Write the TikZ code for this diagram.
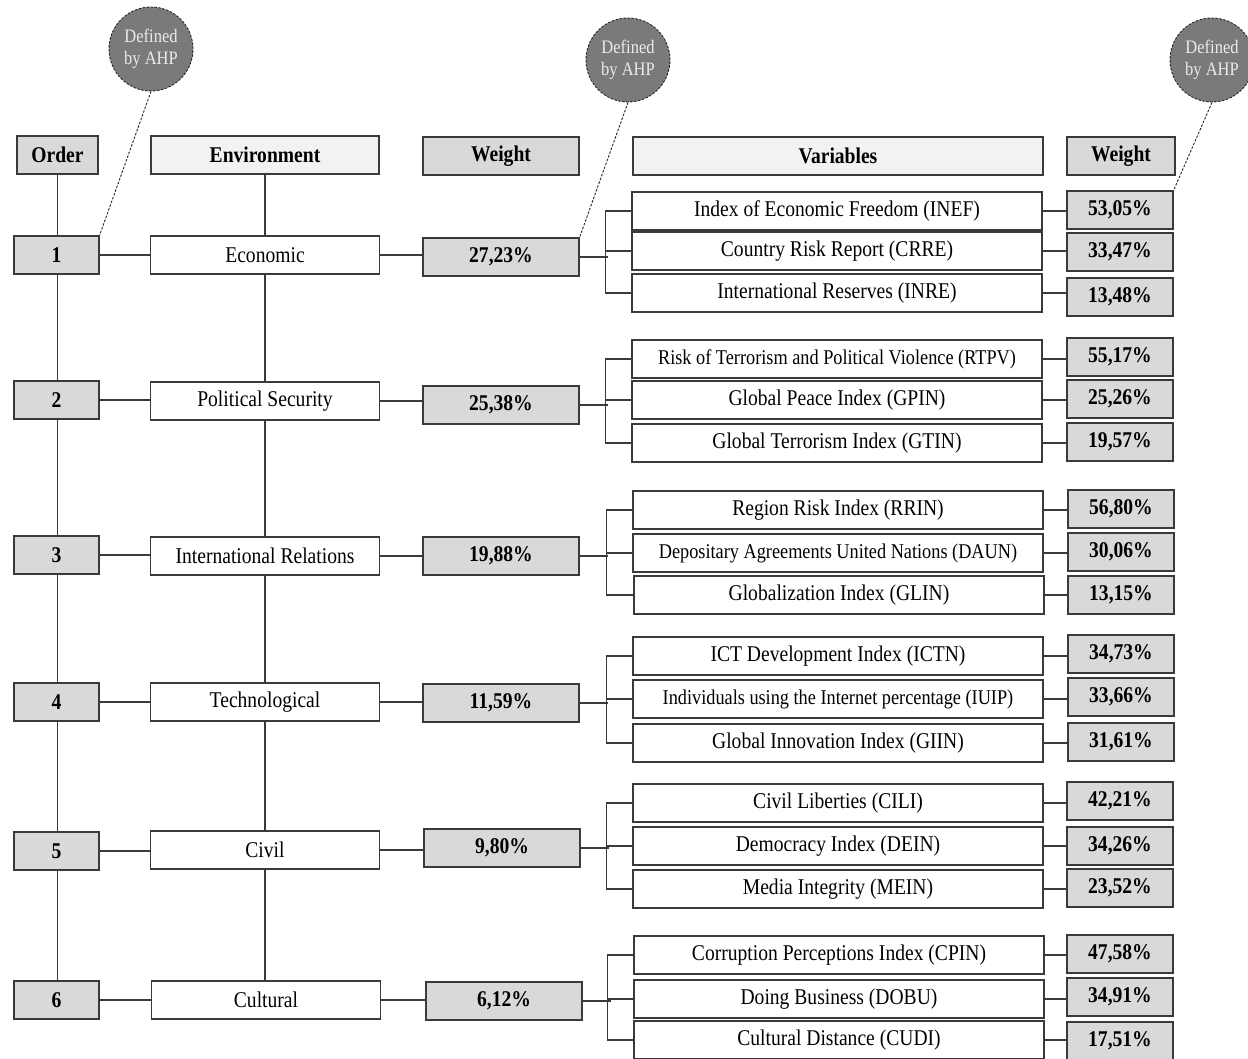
\documentclass[tikz,border=0pt]{standalone}
\usepackage{fontspec}
\setmainfont{Liberation Serif}
\newcommand{\cx}[1]{\scalebox{0.87}[1]{#1}}
\definecolor{gfill}{HTML}{D9D9D9}
\definecolor{hfill}{HTML}{F2F2F2}
\definecolor{cfill}{HTML}{7A7A7A}
\definecolor{ctext}{HTML}{EBEBEB}
\definecolor{lcol}{HTML}{3A3A3A}
\tikzset{
  box/.style={draw=lcol, line width=1.1pt, minimum height=38pt, inner sep=0pt, anchor=center, font=\fontsize{22.5}{25}\selectfont},
  smalltxt/.style={font=\fontsize{21}{24}\selectfont},
  gbox/.style={box, fill=gfill, font=\fontsize{22.5}{25}\selectfont\bfseries},
  hbox/.style={box, fill=hfill, font=\fontsize{22.5}{25}\selectfont\bfseries},
  ordbox/.style={gbox, minimum width=85pt},
  envbox/.style={box, fill=white, minimum width=229pt},
  wbox/.style={gbox, minimum width=156pt},
  varbox/.style={box, fill=white, minimum width=410pt},
  rwbox/.style={gbox, minimum width=106pt},
  conn/.style={draw=lcol, line width=1.1pt},
  ahp/.style={circle, draw=black!85, dash pattern=on 2.5pt off 1.5pt, line width=0.9pt, fill=cfill, minimum size=84pt, inner sep=0pt, text=ctext, align=center, font=\fontsize{19}{22}\selectfont},
  lead/.style={draw=black!85, dash pattern=on 2.5pt off 1.5pt, line width=0.9pt}
}
\begin{document}
\begin{tikzpicture}[x=1pt,y=-1pt]
\useasboundingbox (0,0) rectangle (1248,1059);
% headers
\node[gbox, minimum width=81pt] (oh) at (57.5,155) {\cx{Order}};
\node[hbox, minimum width=228pt] (eh) at (265,155) {\cx{Environment}};
\node[gbox, minimum width=156pt] (wh) at (501,156) {\cx{Weight}};
\node[hbox, minimum width=410pt] (vh) at (838,156) {\cx{Variables}};
\node[gbox, minimum width=108pt] (rh) at (1121,156) {\cx{Weight}};
% order boxes
\node[ordbox] (o1) at (56.5,255) {\cx{1}};
\node[ordbox] (o2) at (56.5,400) {\cx{2}};
\node[ordbox] (o3) at (56.5,555) {\cx{3}};
\node[ordbox] (o4) at (56.5,702) {\cx{4}};
\node[ordbox] (o5) at (56.5,851) {\cx{5}};
\node[ordbox] (o6) at (56.5,1000) {\cx{6}};
% environment boxes
\node[envbox] (e1) at (265,255) {\cx{Economic}};
\node[envbox] (e2) at (265,401) {\cx{Political Security}};
\node[envbox] (e3) at (265,556) {\cx{International Relations}};
\node[envbox] (e4) at (265,702) {\cx{Technological}};
\node[envbox] (e5) at (265,850) {\cx{Civil}};
\node[envbox] (e6) at (266,1000) {\cx{Cultural}};
% weight boxes
\node[wbox] (w1) at (501,257) {\cx{27,23\%}};
\node[wbox] (w2) at (501,405) {\cx{25,38\%}};
\node[wbox] (w3) at (501,556) {\cx{19,88\%}};
\node[wbox] (w4) at (501,703) {\cx{11,59\%}};
\node[wbox] (w5) at (502,848) {\cx{9,80\%}};
\node[wbox] (w6) at (504,1001) {\cx{6,12\%}};
% variables
\node[varbox] (v1a) at (837,211) {\cx{Index of Economic Freedom (INEF)}};
\node[varbox] (v1b) at (837,251) {\cx{Country Risk Report (CRRE)}};
\node[varbox] (v1c) at (837,293) {\cx{International Reserves (INRE)}};
\node[varbox, smalltxt] (v2a) at (837,359) {\cx{Risk of Terrorism and Political Violence (RTPV)}};
\node[varbox] (v2b) at (837,400) {\cx{Global Peace Index (GPIN)}};
\node[varbox] (v2c) at (837,443) {\cx{Global Terrorism Index (GTIN)}};
\node[varbox] (v3a) at (838,510) {\cx{Region Risk Index (RRIN)}};
\node[varbox, smalltxt] (v3b) at (838,553) {\cx{Depositary Agreements United Nations (DAUN)}};
\node[varbox] (v3c) at (839,595) {\cx{Globalization Index (GLIN)}};
\node[varbox] (v4a) at (838,656) {\cx{ICT Development Index (ICTN)}};
\node[varbox, smalltxt] (v4b) at (838,699) {\cx{Individuals using the Internet percentage (IUIP)}};
\node[varbox] (v4c) at (838,743) {\cx{Global Innovation Index (GIIN)}};
\node[varbox] (v5a) at (838,803) {\cx{Civil Liberties (CILI)}};
\node[varbox] (v5b) at (838,846) {\cx{Democracy Index (DEIN)}};
\node[varbox] (v5c) at (838,889) {\cx{Media Integrity (MEIN)}};
\node[varbox] (v6a) at (839,955) {\cx{Corruption Perceptions Index (CPIN)}};
\node[varbox] (v6b) at (839,999) {\cx{Doing Business (DOBU)}};
\node[varbox] (v6c) at (839,1040) {\cx{Cultural Distance (CUDI)}};
% right weights
\node[rwbox] (r1a) at (1120,210) {\cx{53,05\%}};
\node[rwbox] (r1b) at (1120,252) {\cx{33,47\%}};
\node[rwbox] (r1c) at (1120,297) {\cx{13,48\%}};
\node[rwbox] (r2a) at (1120,357) {\cx{55,17\%}};
\node[rwbox] (r2b) at (1120,399) {\cx{25,26\%}};
\node[rwbox] (r2c) at (1120,442) {\cx{19,57\%}};
\node[rwbox] (r3a) at (1121,509) {\cx{56,80\%}};
\node[rwbox] (r3b) at (1121,552) {\cx{30,06\%}};
\node[rwbox] (r3c) at (1121,595) {\cx{13,15\%}};
\node[rwbox] (r4a) at (1121,654) {\cx{34,73\%}};
\node[rwbox] (r4b) at (1121,697) {\cx{33,66\%}};
\node[rwbox] (r4c) at (1121,742) {\cx{31,61\%}};
\node[rwbox] (r5a) at (1120,801) {\cx{42,21\%}};
\node[rwbox] (r5b) at (1120,846) {\cx{34,26\%}};
\node[rwbox] (r5c) at (1120,888) {\cx{23,52\%}};
\node[rwbox] (r6a) at (1120,954) {\cx{47,58\%}};
\node[rwbox] (r6b) at (1120,997) {\cx{34,91\%}};
\node[rwbox] (r6c) at (1120,1041) {\cx{17,51\%}};
% vertical spines
\draw[conn] (oh.south) -- (oh.south |- o1.north);
\draw[conn] (o1.south -| oh.south) -- (o2.north -| oh.south);
\draw[conn] (o2.south -| oh.south) -- (o3.north -| oh.south);
\draw[conn] (o3.south -| oh.south) -- (o4.north -| oh.south);
\draw[conn] (o4.south -| oh.south) -- (o5.north -| oh.south);
\draw[conn] (o5.south -| oh.south) -- (o6.north -| oh.south);
\draw[conn] (eh.south) -- (eh.south |- e1.north);
\draw[conn] (e1.south -| eh.south) -- (e2.north -| eh.south);
\draw[conn] (e2.south -| eh.south) -- (e3.north -| eh.south);
\draw[conn] (e3.south -| eh.south) -- (e4.north -| eh.south);
\draw[conn] (e4.south -| eh.south) -- (e5.north -| eh.south);
\draw[conn] (e5.south -| eh.south) -- (e6.north -| eh.south);
% row connectors
\foreach \n in {1,...,6}{
  \draw[conn] (o\n.east) -- (o\n.east -| e\n.west);
  \draw[conn] (e\n.east) -- (e\n.east -| w\n.west);
  \draw[conn] (w\n.east) -- ++(28,0);
  \draw[conn] (v\n a.west) -- ++(-26,0) |- (v\n c.west);
  \draw[conn] (v\n b.west) -- ++(-26,0);
  \foreach \s in {a,b,c}{
    \draw[conn] (v\n\s.east) -- (v\n\s.east -| r\n\s.west);
  }
}
% AHP circles
\node[ahp] (c1) at (151,49) {\cx{Defined}\\\cx{by AHP}};
\node[ahp] (c2) at (628,60) {\cx{Defined}\\\cx{by AHP}};
\node[ahp] (c3) at (1212,60) {\cx{Defined}\\\cx{by AHP}};
\draw[lead] (c1.south) -- (o1.north east);
\draw[lead] (c2.south) -- (w1.north east);
\draw[lead] (c3.south) -- (r1a.north east);
\end{tikzpicture}
\end{document}
